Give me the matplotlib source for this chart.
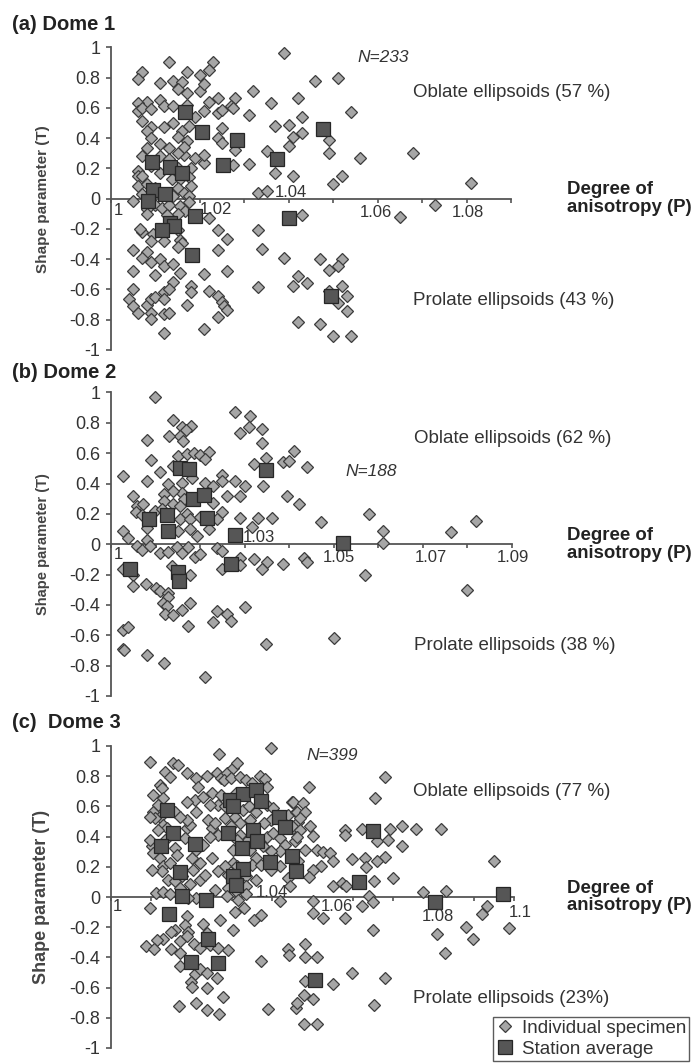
import numpy as np
import matplotlib.pyplot as plt
from matplotlib.lines import Line2D

plt.rcParams['font.family'] = ['Liberation Sans', 'DejaVu Sans']

W, H = 694, 1063

# ---- data (P, T) ----
a_spec = [(1.039,0.96),(1.013,0.90),(1.023,0.90),(1.022,0.85),(1.007,0.84),(1.006,0.79),(1.017,0.835),(1.020,0.82),
(1.011,0.765),(1.014,0.775),(1.016,0.77),(1.015,0.725),(1.017,0.70),(1.020,0.71),(1.021,0.755),(1.032,0.71),(1.042,0.665),
(1.036,0.63),(1.028,0.665),(1.027,0.615),(1.024,0.665),(1.022,0.64),(1.011,0.655),(1.008,0.64),(1.006,0.63),(1.006,0.58),
(1.007,0.60),(1.009,0.59),(1.012,0.615),(1.014,0.61),(1.017,0.62),(1.019,0.54),(1.021,0.58),(1.024,0.565),(1.025,0.585),
(1.0275,0.60),(1.031,0.555),(1.043,0.54),(1.037,0.48),(1.040,0.485),(1.041,0.41),(1.043,0.435),(1.040,0.35),(1.007,0.51),
(1.009,0.475),(1.008,0.45),(1.009,0.40),(1.012,0.475),(1.014,0.50),(1.016,0.445),(1.0175,0.48),(1.015,0.41),(1.017,0.38),
(1.025,0.47),(1.024,0.40),(1.025,0.365),(1.028,0.32),(1.035,0.315),(1.037,0.17),(1.041,0.15),(1.031,0.23),(1.0275,0.22),
(1.021,0.235),(1.019,0.27),(1.021,0.29),(1.0165,0.29),(1.015,0.30),(1.0165,0.34),(1.013,0.335),(1.011,0.36),(1.008,0.335),
(1.007,0.28),(1.011,0.285),(1.013,0.26),(1.009,0.215),(1.006,0.18),(1.006,0.15),(1.007,0.15),(1.011,0.17),(1.015,0.205),
(1.018,0.205),(1.0155,0.13),(1.0175,0.14),(1.0137,0.13),(1.006,0.085),(1.008,0.095),(1.010,0.07),(1.015,0.07),(1.018,0.085),
(1.0165,0.04),(1.014,0.02),(1.0175,0.02),(1.033,0.035),(1.035,0.05),(1.005,-0.015),(1.007,0.03),
(1.008,-0.07),(1.008,-0.10),(1.010,-0.045),(1.0115,-0.06),(1.013,-0.04),(1.0155,-0.05),(1.0175,-0.02),(1.0167,-0.08),
(1.015,-0.10),(1.0125,-0.11),(1.022,-0.125),(1.043,-0.11),(1.007,-0.22),(1.0065,-0.20),(1.0095,-0.235),(1.015,-0.21),
(1.0155,-0.27),(1.016,-0.29),(1.015,-0.32),(1.024,-0.205),(1.026,-0.265),(1.033,-0.205),(1.034,-0.33),(1.024,-0.34),
(1.009,-0.28),(1.012,-0.28),(1.008,-0.355),(1.005,-0.34),(1.007,-0.39),(1.009,-0.42),(1.011,-0.40),(1.012,-0.445),
(1.014,-0.43),(1.010,-0.505),(1.005,-0.48),(1.0155,-0.49),(1.021,-0.50),(1.026,-0.48),(1.039,-0.39),(1.042,-0.51),
(1.044,-0.555),(1.041,-0.575),(1.033,-0.585),(1.014,-0.55),(1.018,-0.575),(1.018,-0.62),(1.012,-0.62),(1.013,-0.595),
(1.005,-0.60),(1.022,-0.61),(1.024,-0.64),(1.025,-0.685),(1.0255,-0.71),(1.026,-0.735),(1.004,-0.665),(1.005,-0.71),
(1.006,-0.755),(1.008,-0.70),(1.009,-0.665),(1.010,-0.65),(1.012,-0.66),(1.009,-0.755),(1.009,-0.795),(1.012,-0.76),
(1.013,-0.755),(1.017,-0.70),(1.024,-0.78),(1.021,-0.86),(1.012,-0.885),(1.042,-0.815),
(1.0459,0.78),(1.0511,0.80),(1.054,0.57),(1.049,0.39),(1.049,0.30),(1.056,0.27),(1.068,0.30),(1.052,0.15),(1.050,0.10),
(1.081,0.105),(1.073,-0.045),(1.065,-0.12),(1.047,-0.40),(1.052,-0.40),(1.049,-0.47),(1.051,-0.445),(1.052,-0.58),
(1.049,-0.61),(1.053,-0.645),(1.051,-0.69),(1.053,-0.745),(1.047,-0.825),(1.050,-0.91),(1.054,-0.905)]
a_avg = [(1.0092,0.24),(1.0133,0.21),(1.016,0.17),(1.0252,0.22),(1.0284,0.39),(1.0205,0.44),(1.0167,0.57),(1.0374,0.265),
(1.0477,0.46),(1.0094,0.057),(1.0122,0.03),(1.0083,-0.016),(1.0189,-0.115),(1.0133,-0.16),(1.0142,-0.18),(1.0114,-0.21),
(1.0183,-0.375),(1.0401,-0.13),(1.0495,-0.645)]

b_spec = [(1.0099,0.97),(1.0139,0.82),(1.0159,0.77),(1.0179,0.78),(1.0169,0.75),(1.0154,0.715),(1.0161,0.68),(1.008,0.685),
(1.013,0.715),(1.0279,0.87),(1.0311,0.845),(1.031,0.775),(1.0339,0.76),(1.029,0.735),(1.034,0.67),(1.0348,0.57),(1.032,0.53),
(1.041,0.615),(1.0386,0.545),(1.040,0.55),(1.044,0.51),(1.009,0.555),(1.011,0.475),(1.008,0.42),(1.0028,0.45),(1.015,0.58),
(1.017,0.595),(1.0187,0.60),(1.020,0.59),(1.0219,0.605),(1.0211,0.56),(1.0139,0.515),(1.0181,0.435),(1.0159,0.405),
(1.0129,0.395),(1.0159,0.34),(1.014,0.35),(1.0118,0.33),(1.0163,0.30),(1.0211,0.405),(1.023,0.385),(1.0249,0.455),
(1.0249,0.42),(1.0279,0.42),(1.030,0.385),(1.026,0.32),(1.029,0.32),(1.0342,0.385),(1.0395,0.32),(1.0421,0.265),
(1.0049,0.32),(1.0059,0.255),(1.0071,0.265),(1.0056,0.21),(1.0069,0.19),(1.0099,0.22),(1.0118,0.285),(1.0114,0.23),
(1.014,0.265),(1.0155,0.255),(1.017,0.20),(1.0155,0.165),(1.0178,0.165),(1.020,0.18),(1.023,0.275),(1.0249,0.21),
(1.0238,0.165),(1.0219,0.10),(1.0178,0.10),(1.0151,0.09),(1.0193,0.055),(1.029,0.175),(1.0316,0.115),(1.0331,0.175),
(1.0361,0.17),(1.0028,0.09),(1.0039,0.04),(1.008,0.11),(1.008,0.03),
(1.0059,-0.01),(1.0069,-0.04),(1.0088,-0.01),(1.0109,-0.055),(1.0129,-0.05),(1.0148,-0.02),(1.0159,-0.055),(1.0172,-0.02),
(1.0189,-0.085),(1.020,-0.065),(1.0238,-0.026),(1.0249,-0.045),(1.032,-0.10),(1.029,-0.09),(1.035,-0.12),(1.0339,-0.16),
(1.029,-0.14),(1.0249,-0.165),(1.0386,-0.13),(1.0434,-0.09),(1.044,-0.12),(1.0028,-0.16),(1.005,-0.20),(1.005,-0.275),
(1.0079,-0.265),(1.0101,-0.29),(1.011,-0.31),(1.0129,-0.32),(1.0136,-0.145),(1.0178,-0.20),(1.0129,-0.35),(1.0116,-0.385),
(1.0125,-0.405),(1.0121,-0.46),(1.014,-0.465),(1.0159,-0.43),(1.0178,-0.385),(1.0172,-0.54),(1.0238,-0.44),(1.026,-0.46),
(1.027,-0.505),(1.023,-0.515),(1.030,-0.415),(1.0028,-0.565),(1.0039,-0.545),(1.0028,-0.69),(1.003,-0.70),(1.008,-0.73),
(1.0119,-0.78),(1.021,-0.875),(1.0348,-0.66),
(1.0471,0.147),(1.058,0.20),(1.0611,0.088),(1.0611,0.01),(1.0762,0.08),(1.082,0.15),(1.0571,-0.20),(1.0799,-0.30),(1.050,-0.62)]
b_avg = [(1.0086,0.165),(1.0125,0.19),(1.0129,0.09),(1.0155,0.505),(1.0176,0.495),(1.0184,0.30),(1.0209,0.325),(1.0215,0.175),
(1.0279,0.06),(1.0348,0.49),(1.0043,-0.165),(1.0151,-0.185),(1.0153,-0.245),(1.0269,-0.13),(1.0521,0.005)]

c_spec = [(1.0098,0.896),(1.0134,0.83),(1.0155,0.89),(1.0167,0.875),(1.0189,0.824),(1.0146,0.797),(1.0121,0.742),(1.0126,0.72),
(1.0105,0.676),(1.0130,0.654),(1.0117,0.61),(1.0105,0.566),(1.0121,0.533),(1.0109,0.522),(1.0159,0.566),(1.0130,0.478),
(1.0138,0.456),(1.0101,0.335),(1.0134,0.379),(1.0105,0.29),(1.0159,0.324),(1.0164,0.28),(1.0121,0.258),(1.0130,0.203),
(1.0146,0.225),(1.0126,0.17),(1.0101,0.18),(1.0142,0.115),(1.0159,0.104),(1.0175,0.137),(1.0112,0.026),(1.0130,0.031),
(1.0146,0.022),(1.0171,0.06),(1.0189,0.456),(1.0196,0.478),(1.0183,0.39),(1.0189,0.511),(1.0208,0.643),(1.0211,0.566),
(1.0229,0.665),(1.0250,0.687),(1.0239,0.80),(1.0269,0.947),(1.0262,0.824),(1.0272,0.786),(1.0266,0.61),(1.0245,0.61),
(1.0241,0.511),(1.0250,0.456),(1.0258,0.489),(1.0266,0.412),(1.0245,0.40),(1.0229,0.346),(1.0200,0.258),(1.0212,0.313),
(1.0221,0.225),(1.0204,0.18),(1.0196,0.088),(1.0221,0.115),(1.0250,0.258),(1.0233,0.148),(1.0266,0.17),(1.0258,0.048),
(1.0212,-0.007),(1.0192,-0.007),(1.0188,0.632),(1.0171,0.533),(1.0212,0.786),(1.0217,0.73),(1.0097,0.533),(1.0097,0.379),
(1.0117,0.445),
(1.0098,-0.073),(1.0189,-0.128),(1.0183,-0.183),(1.0159,-0.22),(1.0148,-0.233),(1.0128,-0.278),(1.0115,-0.286),(1.0088,-0.326),
(1.0107,-0.344),(1.0192,-0.233),(1.0171,-0.293),(1.0189,-0.26),(1.0148,-0.344),(1.0171,-0.37),(1.0206,-0.308),(1.0229,-0.176),
(1.0237,-0.238),(1.0221,-0.337),(1.0245,-0.315),(1.0266,-0.337),(1.0291,-0.348),(1.0270,-0.15),(1.0302,-0.22),(1.0171,-0.454),
(1.0208,-0.513),(1.0221,-0.48),(1.0239,-0.502),(1.0262,-0.535),(1.0198,-0.564),(1.0200,-0.595),(1.0237,-0.60),(1.0278,-0.66),
(1.0169,-0.722),(1.0211,-0.70),(1.0237,-0.749),(1.0269,-0.777),(1.0307,-0.101),(1.0330,-0.073),(1.0355,-0.15),(1.0371,-0.117),
(1.0419,-0.024),(1.0371,-0.425),(1.0390,-0.74),(1.0440,-0.344),(1.0442,-0.381),(1.0460,-0.733),
(1.0288,0.82),(1.0303,0.852),(1.0312,0.89),(1.0280,0.775),(1.0299,0.786),(1.0320,0.797),(1.0336,0.775),(1.0369,0.80),
(1.0382,0.78),(1.0386,0.73),(1.0349,0.753),(1.0398,0.985),(1.0310,0.687),(1.0274,0.676),(1.0283,0.60),(1.0283,0.522),
(1.0307,0.533),(1.0328,0.577),(1.0343,0.60),(1.0361,0.566),(1.0386,0.61),(1.0402,0.588),(1.0398,0.511),(1.0379,0.489),
(1.0345,0.511),(1.0320,0.489),(1.0299,0.467),(1.0320,0.412),(1.0341,0.379),(1.0312,0.379),(1.0302,0.313),(1.0345,0.313),
(1.0378,0.335),(1.0386,0.40),(1.0402,0.423),(1.0419,0.39),(1.0431,0.346),(1.0419,0.302),(1.0398,0.302),(1.0361,0.258),
(1.0349,0.214),(1.0373,0.214),(1.0398,0.18),(1.0419,0.203),(1.0440,0.126),(1.0303,0.225),(1.0283,0.203),(1.0291,0.148),
(1.0312,0.203),(1.0336,0.137),(1.0361,0.115),(1.0336,0.07),(1.0310,0.037),(1.0291,0.06),(1.0288,0.004),(1.0316,-0.018),
(1.0336,0.022),(1.0448,0.632),(1.0440,0.544),(1.0460,0.566),(1.0452,0.456),(1.0464,0.50),(1.0456,0.368),(1.0464,0.236),
(1.0444,0.07),
(1.0680,0.793),(1.0655,0.654),(1.0492,0.73),(1.0452,0.632),(1.0477,0.62),(1.0461,0.566),(1.0481,0.566),(1.0469,0.522),
(1.0494,0.471),(1.0450,0.471),(1.0469,0.445),(1.0500,0.405),(1.0461,0.40),(1.0580,0.445),(1.0580,0.412),(1.0622,0.45),
(1.0692,0.45),(1.0721,0.471),(1.0758,0.45),(1.0820,0.45),(1.0659,0.368),(1.0688,0.379),(1.0721,0.335),(1.0680,0.264),
(1.0659,0.236),(1.0630,0.258),(1.0632,0.198),(1.0597,0.251),(1.0481,0.313),(1.0510,0.313),(1.0527,0.295),(1.0543,0.29),
(1.0551,0.236),(1.0521,0.207),(1.0500,0.18),(1.0492,0.132),(1.0452,0.236),(1.0700,0.126),(1.0950,0.236),(1.0551,0.075),
(1.0573,0.093),(1.0584,0.07),(1.0652,0.104),(1.0773,0.031),(1.0831,0.042),(1.0640,0.009),(1.0650,-0.035),(1.0622,-0.062),
(1.0500,-0.024),(1.0500,-0.106),(1.0527,-0.139),(1.0580,-0.139),(1.0650,-0.22),(1.0809,-0.242),(1.0828,-0.37),(1.0881,-0.198),
(1.0899,-0.275),(1.0920,-0.11),(1.0932,-0.057),(1.0988,-0.205),(1.0481,-0.308),(1.0481,-0.396),(1.0510,-0.396),(1.0481,-0.557),
(1.0551,-0.579),(1.0598,-0.502),(1.0680,-0.535),(1.0478,-0.652),(1.0500,-0.678),(1.0461,-0.70),(1.0652,-0.718),(1.0478,-0.844),
(1.0510,-0.844)]
c_avg = [(1.0138,0.573),(1.0155,0.423),(1.0124,0.335),(1.0171,0.165),(1.0208,0.352),(1.0175,0.009),(1.0235,-0.022),(1.0144,-0.11),
(1.0241,-0.278),(1.0198,-0.432),(1.0266,-0.44),(1.0295,0.643),(1.0328,0.683),(1.036,0.709),(1.0372,0.637),(1.0303,0.60),
(1.0291,0.423),(1.0353,0.445),(1.0363,0.374),(1.0324,0.324),(1.0328,0.185),(1.0302,0.141),(1.031,0.081),(1.0394,0.229),
(1.0417,0.533),(1.0431,0.463),(1.0448,0.273),(1.0459,0.17),(1.0649,0.44),(1.0616,0.097),(1.0804,-0.035),(1.0973,0.022),
(1.0506,-0.55)]

y_ticks = [1, 0.8, 0.6, 0.4, 0.2, 0, -0.2, -0.4, -0.6, -0.8, -1]
y_ticklabels = ['1', '0.8', '0.6', '0.4', '0.2', '0', '-0.2', '-0.4', '-0.6', '-0.8', '-1']

a_xlabels = [('1', 1.0016, -0.08), ('1.02', 1.0235, -0.07), ('1.04', 1.0404, 0.04), ('1.06', 1.0597, -0.09), ('1.08', 1.0804, -0.09)]
b_xlabels = [('1', 1.0016, -0.07), ('1.03', 1.0332, 0.045), ('1.05', 1.0512, -0.085), ('1.07', 1.0717, -0.085), ('1.09', 1.0903, -0.085)]
c_xlabels = [('1', 1.0017, -0.06), ('1.04', 1.0400, 0.033), ('1.06', 1.0561, -0.06), ('1.08', 1.0811, -0.13), ('1.1', 1.1015, -0.10)]

titles = ['(a) Dome 1', '(b) Dome 2', '(c)  Dome 3']
counts = ['N=233', 'N=188', 'N=399']
oblate = ['Oblate ellipsoids (57 %)', 'Oblate ellipsoids (62 %)', 'Oblate ellipsoids (77 %)']
prolate = ['Prolate ellipsoids (43 %)', 'Prolate ellipsoids (38 %)', 'Prolate ellipsoids (23%)']

spec_style = dict(linestyle='none', marker='D', markersize=6.0, markerfacecolor='#a6a6a6',
                  markeredgecolor='#3c3c3c', markeredgewidth=0.9, clip_on=False)
avg_style = dict(linestyle='none', marker='s', markersize=10, markerfacecolor='#565656',
                 markeredgecolor='#262626', markeredgewidth=0.9, clip_on=False)
txt = '#333333'

fig = plt.figure(figsize=(W / 100, H / 100), dpi=100)


def panel(box, xmax, spec, avg, xlabels, title, title_y, count, count_pos, obl, pro, note_x, ylab_size):
    left, top, right, bottom = box
    ax = fig.add_axes([left / W, 1 - bottom / H, (right - left) / W, (bottom - top) / H])
    ax.patch.set_visible(False)
    ax.set_xlim(1.0, xmax)
    ax.set_ylim(-1, 1)
    ax.spines['left'].set_position(('data', 1.0))
    ax.spines['bottom'].set_position(('data', 0))
    for s in ['top', 'right']:
        ax.spines[s].set_visible(False)
    for s in ['left', 'bottom']:
        ax.spines[s].set_color('#555555')
        ax.spines[s].set_linewidth(1.3)
    ax.set_xticks(np.arange(1.0, xmax + 0.001, 0.01))
    ax.set_xticklabels([])
    ax.set_yticks(y_ticks)
    ax.set_yticklabels(y_ticklabels)
    ax.tick_params(axis='x', direction='out', length=3, width=1.2, color='#555555')
    ax.tick_params(axis='y', direction='out', length=3.5, width=1.2, color='#555555',
                   labelsize=13, labelcolor=txt, pad=4)
    ax.set_ylabel('Shape parameter (T)', fontsize=ylab_size, fontweight='bold', color='#444444')
    ax.yaxis.set_label_coords((50 - left) / (right - left), 0.5)

    sx, sy = zip(*spec)
    ax.plot(sx, sy, zorder=3, **spec_style)
    mx, my = zip(*avg)
    ax.plot(mx, my, zorder=4, **avg_style)

    for lab, x, y in xlabels:
        ax.text(x, y, lab, ha='center', va='center', fontsize=12, color=txt, zorder=5)
    ax.text(count_pos[0], count_pos[1], count, ha='left', va='center', fontsize=12.5,
            style='italic', color=txt)
    ax.text(note_x, 0.70, obl, ha='left', va='center', fontsize=13.5, color=txt)
    ax.text(note_x, -0.67, pro, ha='left', va='center', fontsize=13.5, color=txt)
    ax.text(1.0 + (567 - left) / (right - left) * (xmax - 1.0), 0.0, 'Degree of\nanisotropy (P)',
            ha='left', va='center', fontsize=13.4, fontweight='bold', color='#222222', linespacing=1.05)
    fig.text(12 / W, 1 - title_y / H, title, ha='left', va='center', fontsize=14.5,
             fontweight='bold', color='#222222')
    return ax


panel((111, 47.3, 511, 350), 1.09, a_spec, a_avg, a_xlabels, titles[0], 25,
      counts[0], (1.0554, 0.93), oblate[0], prolate[0], 1.068, 11)
panel((111, 392.5, 512, 696), 1.09, b_spec, b_avg, b_xlabels, titles[1], 372,
      counts[1], (1.0526, 0.48), oblate[1], prolate[1], 1.068, 10.5)
ax3 = panel((111, 746, 514, 1048), 1.10, c_spec, c_avg, c_xlabels, titles[2], 722,
            counts[2], (1.0486, 0.94), oblate[2], prolate[2], 1.0749, 13)

handles = [Line2D([], [], **spec_style), Line2D([], [], **avg_style)]
leg = fig.legend(handles, ['Individual specimen', 'Station average'], loc='upper left',
                 bbox_to_anchor=(493 / W, 1 - 1017 / H), frameon=True, fancybox=False,
                 edgecolor='#333333', fontsize=13.5, borderpad=0.15, labelspacing=0.2,
                 handletextpad=0.4, handlelength=1.0, borderaxespad=0)
leg.get_frame().set_linewidth(1.0)
for t in leg.get_texts():
    t.set_color(txt)

fig.savefig('out.png', dpi=100)
